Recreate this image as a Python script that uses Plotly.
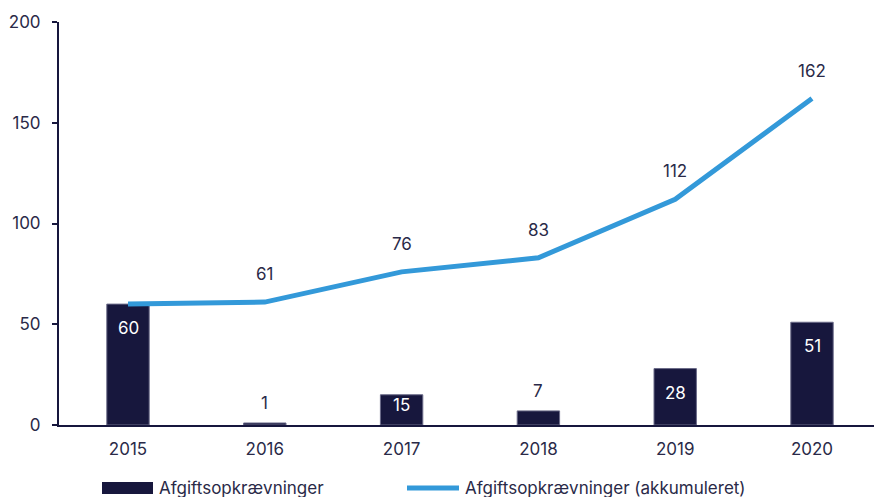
import plotly.graph_objects as go

years = ["2015", "2016", "2017", "2018", "2019", "2020"]
annual = [60, 1, 15, 7, 28, 51]
cumulative = [60, 61, 76, 83, 112, 162]
y_ticks = [0, 50, 100, 150, 200]

NAVY = "#17173d"
BLUE = "#3399d9"
TEXT = "#2a2a48"
FONT = "Inter"
FS = 17

W, H = 874, 497
ML, MR, MT, MB = 59, 0, 22, 72
PW = W - ML - MR
PH = H - MT - MB

x_idx = list(range(len(years)))

fig = go.Figure()
fig.add_trace(go.Bar(
    x=x_idx, y=annual, width=0.31,
    marker=dict(color=NAVY, line=dict(color="#6a6a88", width=1)),
    name="Afgiftsopkrævninger", showlegend=False, hoverinfo="skip",
))
fig.add_trace(go.Scatter(
    x=x_idx, y=cumulative, mode="lines",
    line=dict(color=BLUE, width=5),
    name="Afgiftsopkrævninger (akkumuleret)", showlegend=False, hoverinfo="skip",
))

px_per_unit = PH / 200.0
annotations = []
for i, v in enumerate(annual):
    bar_px = v * px_per_unit
    if bar_px > 25:
        annotations.append(dict(x=i, y=v, text=str(v), showarrow=False,
                                yshift=-min(24, bar_px - 20),
                                font=dict(color="white", size=FS, family=FONT)))
    else:
        annotations.append(dict(x=i, y=v, text=str(v), showarrow=False,
                                yshift=20, font=dict(color=TEXT, size=FS, family=FONT)))
for i, v in enumerate(cumulative):
    if v == annual[i]:
        continue  # first year: same value already shown on the bar
    annotations.append(dict(x=i, y=v, text=str(v), showarrow=False, yshift=28,
                            font=dict(color=TEXT, size=FS, family=FONT)))

# legend (drawn manually)
def px_to_paper_x(p):
    return (p - ML) / PW

def py_to_paper_y(p):
    return (H - MB - p) / PH

legend_y = 488
shapes = [
    dict(type="rect", xref="paper", yref="paper",
         x0=px_to_paper_x(102), x1=px_to_paper_x(153),
         y0=py_to_paper_y(494), y1=py_to_paper_y(482),
         fillcolor=NAVY, line=dict(width=0)),
    dict(type="line", xref="paper", yref="paper",
         x0=px_to_paper_x(407), x1=px_to_paper_x(459),
         y0=py_to_paper_y(legend_y), y1=py_to_paper_y(legend_y),
         line=dict(color=BLUE, width=5)),
]
annotations.append(dict(xref="paper", yref="paper", x=px_to_paper_x(157),
                        y=py_to_paper_y(legend_y), xanchor="left", yanchor="middle",
                        text="Afgiftsopkrævninger", showarrow=False,
                        font=dict(color=TEXT, size=FS, family=FONT)))
annotations.append(dict(xref="paper", yref="paper", x=px_to_paper_x(463),
                        y=py_to_paper_y(legend_y), xanchor="left", yanchor="middle",
                        text="Afgiftsopkrævninger (akkumuleret)", showarrow=False,
                        font=dict(color=TEXT, size=FS, family=FONT)))

left = -(128 - ML) / 136.8
right = left + PW / 136.8

fig.update_layout(
    width=W, height=H,
    margin=dict(l=ML, r=MR, t=MT, b=MB, pad=0),
    plot_bgcolor="white", paper_bgcolor="white",
    font=dict(family=FONT, size=FS, color=TEXT),
    showlegend=False,
    annotations=annotations,
    shapes=shapes,
    xaxis=dict(
        range=[left, right], tickmode="array", tickvals=x_idx, ticktext=years,
        showgrid=False, zeroline=False, showline=True, linecolor=NAVY, linewidth=2,
        ticks="", ticklabelstandoff=8, fixedrange=True,
    ),
    yaxis=dict(
        range=[0, 200], tickmode="array", tickvals=y_ticks,
        showgrid=False, zeroline=False, showline=True, linecolor=NAVY, linewidth=2,
        ticks="outside", ticklen=5, tickcolor=NAVY, tickwidth=2,
        ticklabelstandoff=8, fixedrange=True,
    ),
)

fig.write_html("out.html", config={"displayModeBar": False},
               post_script="document.body.style.margin='0';document.body.style.overflow='hidden';")
